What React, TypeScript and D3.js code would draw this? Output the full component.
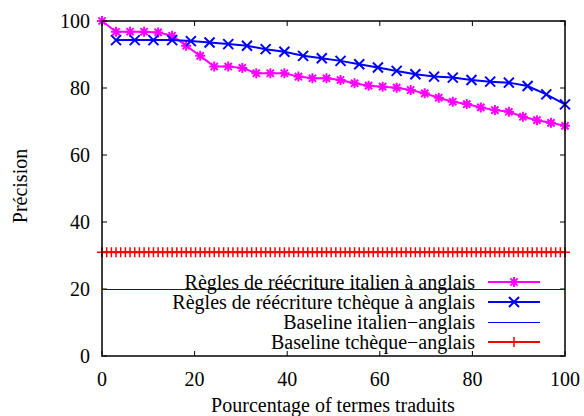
import * as d3 from "d3";

// pourcentage des termes traduits (x) et précision (y)
const italienX = [0, 3.03, 6.06, 9.09, 12.12, 15.15, 18.18, 21.21, 24.24, 27.27, 30.3, 33.33, 36.36, 39.39, 42.42, 45.45, 48.48, 51.52, 54.55, 57.58, 60.61, 63.64, 66.67, 69.7, 72.73, 75.76, 78.79, 81.82, 84.85, 87.88, 90.91, 93.94, 96.97, 100];
const italienY = [100, 96.8, 96.8, 96.8, 96.6, 95.6, 92.6, 89.6, 86.4, 86.4, 86.0, 84.4, 84.4, 84.4, 83.4, 82.9, 82.9, 82.4, 81.4, 80.7, 80.4, 80.1, 79.4, 78.4, 77.1, 75.9, 75.2, 74.2, 73.4, 72.9, 71.4, 70.4, 69.6, 68.7];

const tchequeX = [3.03, 7.07, 11.11, 15.15, 19.19, 23.23, 27.27, 31.31, 35.35, 39.39, 43.43, 47.47, 51.52, 55.56, 59.6, 63.64, 67.68, 71.72, 75.76, 79.8, 83.84, 87.88, 91.92, 95.96, 100];
const tchequeY = [94.3, 94.3, 94.3, 94.3, 94.0, 93.6, 93.1, 92.6, 91.6, 90.8, 89.6, 88.9, 88.1, 87.1, 86.1, 85.1, 84.1, 83.4, 83.1, 82.4, 81.9, 81.6, 80.6, 78.1, 75.1];

const baselineItalien = 20;
const baselineTcheque = 31;
const baselineSamples = 100; // gnuplot samples the constant function

const xTicks = [0, 20, 40, 60, 80, 100];
const yTicks = [0, 20, 40, 60, 80, 100];

const legendLabels = [
  "Règles de réécriture italien à anglais",
  "Règles de réécriture tchèque à anglais",
  "Baseline italien−anglais",
  "Baseline tchèque−anglais",
];

const W = 584;
const H = 416;
const txt = { fontFamily: "Liberation Serif", fontSize: 20 };

const starPath = "M-5,0H5M0,-5V5M-3.6,-3.6L3.6,3.6M-3.6,3.6L3.6,-3.6";
const crossPath = "M-5,-5L5,5M-5,5L5,-5";
const plusPath = "M-5,0H5M0,-5V5";

export default function App() {
  const x = d3.scaleLinear().domain([0, 100]).range([102, 565]);
  const y = d3.scaleLinear().domain([0, 100]).range([356, 21]);

  const italien = italienX.map((v, i) => [v, italienY[i]] as [number, number]);
  const tcheque = tchequeX.map((v, i) => [v, tchequeY[i]] as [number, number]);
  const samples = d3.range(baselineSamples).map((i) => (i * 100) / (baselineSamples - 1));

  const line = d3
    .line<[number, number]>()
    .x((d) => x(d[0]))
    .y((d) => y(d[1]));

  const [x0, x1] = x.range();
  const [y0, y1] = y.range();
  const tickLen = 5;

  const legendX = 475;
  const keyX0 = 488;
  const keyX1 = 540;
  const legendY = [282, 302, 322, 342];

  return (
    <svg
      width={W}
      height={H}
      style={{ position: "fixed", left: 0, top: 0, background: "#fff" }}
    >
      {/* ticks, mirrored on all sides */}
      <g stroke="#000" strokeWidth={1}>
        {xTicks.map((t) => (
          <g key={"xt" + t}>
            <line x1={x(t)} x2={x(t)} y1={y0} y2={y0 - tickLen} />
            <line x1={x(t)} x2={x(t)} y1={y1} y2={y1 + tickLen} />
          </g>
        ))}
        {yTicks.map((t) => (
          <g key={"yt" + t}>
            <line x1={x0} x2={x0 + tickLen} y1={y(t)} y2={y(t)} />
            <line x1={x1} x2={x1 - tickLen} y1={y(t)} y2={y(t)} />
          </g>
        ))}
      </g>

      {/* tick labels */}
      {xTicks.map((t) => (
        <text key={"xl" + t} x={x(t)} y={386} textAnchor="middle" style={txt}>
          {t}
        </text>
      ))}
      {yTicks.map((t) => (
        <text key={"yl" + t} x={90} y={y(t) + 6.5} textAnchor="end" style={txt}>
          {t}
        </text>
      ))}

      {/* axis titles */}
      <text x={333} y={412} textAnchor="middle" style={txt}>
        Pourcentage of termes traduits
      </text>
      <text transform={`translate(27,186) rotate(-90)`} textAnchor="middle" style={txt}>
        Précision
      </text>

      {/* italien rules */}
      <path d={line(italien) ?? ""} fill="none" stroke="#ff00ff" strokeWidth={2} />
      {italien.map((d, i) => (
        <path
          key={"it" + i}
          d={starPath}
          transform={`translate(${x(d[0])},${y(d[1])})`}
          stroke="#ff00ff"
          strokeWidth={2}
          fill="none"
        />
      ))}

      {/* tchèque rules */}
      <path d={line(tcheque) ?? ""} fill="none" stroke="#0000ff" strokeWidth={2} />
      {tcheque.map((d, i) => (
        <path
          key={"cz" + i}
          d={crossPath}
          transform={`translate(${x(d[0])},${y(d[1])})`}
          stroke="#0000ff"
          strokeWidth={2}
          fill="none"
        />
      ))}

      {/* baselines */}
      <line
        x1={x(0)}
        x2={x(100)}
        y1={y(baselineItalien) + 0.5}
        y2={y(baselineItalien) + 0.5}
        stroke="#0000ff"
        strokeWidth={1}
        shapeRendering="crispEdges"
      />
      <line
        x1={x(0)}
        x2={x(100)}
        y1={y(baselineTcheque)}
        y2={y(baselineTcheque)}
        stroke="#ff0000"
        strokeWidth={2}
      />
      {samples.map((s, i) => (
        <path
          key={"bt" + i}
          d={plusPath}
          transform={`translate(${x(s)},${y(baselineTcheque)})`}
          stroke="#ff0000"
          strokeWidth={1.5}
        />
      ))}

      {/* legend */}
      {legendLabels.map((lab, i) => (
        <text key={"lg" + i} x={legendX} y={legendY[i] + 6.5} textAnchor="end" style={txt}>
          {lab}
        </text>
      ))}
      <line x1={keyX0} x2={keyX1} y1={legendY[0]} y2={legendY[0]} stroke="#ff00ff" strokeWidth={2} />
      <path d={starPath} transform={`translate(${(keyX0 + keyX1) / 2},${legendY[0]})`} stroke="#ff00ff" strokeWidth={2} fill="none" />
      <line x1={keyX0} x2={keyX1} y1={legendY[1]} y2={legendY[1]} stroke="#0000ff" strokeWidth={2} />
      <path d={crossPath} transform={`translate(${(keyX0 + keyX1) / 2},${legendY[1]})`} stroke="#0000ff" strokeWidth={2} fill="none" />
      <line x1={keyX0} x2={keyX1} y1={legendY[2] + 0.5} y2={legendY[2] + 0.5} stroke="#0000ff" strokeWidth={1} shapeRendering="crispEdges" />
      <line x1={keyX0} x2={keyX1} y1={legendY[3]} y2={legendY[3]} stroke="#ff0000" strokeWidth={2} />
      <path d={plusPath} transform={`translate(${(keyX0 + keyX1) / 2},${legendY[3]})`} stroke="#ff0000" strokeWidth={1.5} />

      {/* border */}
      <rect
        x={x0}
        y={y1}
        width={x1 - x0}
        height={y0 - y1}
        fill="none"
        stroke="#000"
        strokeWidth={1.5}
      />
    </svg>
  );
}
